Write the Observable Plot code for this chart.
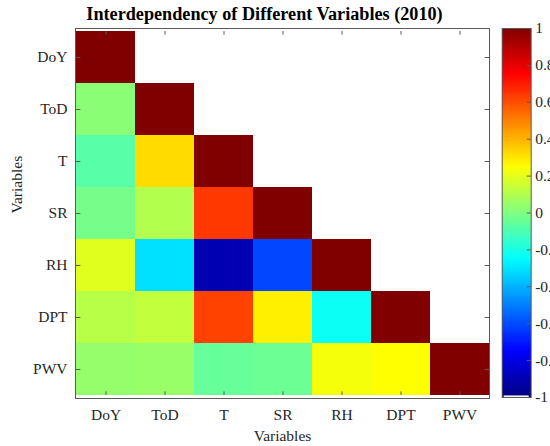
<!DOCTYPE html>
<html>
<head>
<meta charset="utf-8">
<script src="https://cdn.jsdelivr.net/npm/d3@7"></script>
<script src="https://cdn.jsdelivr.net/npm/@observablehq/plot@0.6"></script>
<style>
  html, body { margin: 0; padding: 0; background: white; overflow: hidden; }
  #wrap { position: relative; width: 550px; height: 446px; overflow: hidden; }
  #main { position: absolute; left: 0; top: 0; width: 550px; }
  #bar { position: absolute; left: 490px; top: 0; width: 80px; }
  #wrap svg { overflow: visible; max-width: none !important; font-family: "Liberation Serif", "Times New Roman", serif !important; font-size: 15.5px; }
  #wrap svg text { font-family: "Liberation Serif", "Times New Roman", serif !important; }
</style>
</head>
<body>
<div id="wrap"><div id="main"></div><div id="bar"></div></div>
<script>
// Variables
const vars = ["DoY", "ToD", "T", "SR", "RH", "DPT", "PWV"];
// Lower-triangle correlation rows (column order = vars)
const rowDoY = [1];
const rowToD = [0.02, 1];
const rowT   = [-0.08, 0.32, 1];
const rowSR  = [-0.02, 0.10, 0.64, 1];
const rowRH  = [0.19, -0.31, -0.90, -0.61, 1];
const rowDPT = [0.11, 0.13, 0.62, 0.28, -0.23, 1];
const rowPWV = [0.04, 0.05, -0.05, -0.04, 0.23, 0.25, 1];
const colorbarTicks = [1, 0.8, 0.6, 0.4, 0.2, 0, -0.2, -0.4, -0.6, -0.8, -1];
const titleText = "Interdependency of Different Variables (2010)";
const axisLabel = "Variables";

const rows = [rowDoY, rowToD, rowT, rowSR, rowRH, rowDPT, rowPWV];
const cells = rows.flatMap((r, i) => r.map((v, j) => ({row: vars[i], col: vars[j], value: v})));

const jet = {
  type: "linear",
  domain: [-1, -0.75, -0.25, 0.25, 0.75, 1],
  range: ["#000080", "#0000ff", "#00ffff", "#ffff00", "#ff0000", "#800000"],
  interpolate: "rgb"
};
const axisColor = "#262626";
const frameColor = "#5a5a5a";
const fs = 15.5;

const W = 550, H = 446, mL = 75, mR = 61, mT = 28, mB = 48;
const bw = (W - mL - mR) / vars.length;
const bh = (H - mT - mB) / vars.length;

const main = Plot.plot({
  width: W, height: H,
  marginLeft: mL, marginRight: mR, marginTop: mT, marginBottom: mB,
  x: {domain: vars, padding: 0, label: null},
  y: {domain: vars, padding: 0, label: null},
  color: jet,
  marks: [
    Plot.cell(cells, {x: "col", y: "row", fill: "value"}),
    Plot.frame({stroke: frameColor, strokeWidth: 1}),
    Plot.tickX(vars, {x: d => d, y: () => "PWV", insetTop: bh - 4.5, stroke: frameColor}),
    Plot.tickX(vars, {x: d => d, y: () => "DoY", insetBottom: bh - 4.5, stroke: frameColor}),
    Plot.tickY(vars, {y: d => d, x: () => "DoY", insetRight: bw - 4.5, stroke: frameColor}),
    Plot.tickY(vars, {y: d => d, x: () => "PWV", insetLeft: bw - 4.5, stroke: frameColor}),
    Plot.axisX({anchor: "bottom", tickSize: 0, tickPadding: 10, label: null, fontSize: fs, fill: axisColor}),
    Plot.axisY({anchor: "left", tickSize: 0, tickPadding: 8, label: null, fontSize: fs, fill: axisColor}),
    Plot.text([titleText], {frameAnchor: "top", lineAnchor: "bottom", dy: -9, dx: -18, fontWeight: "bold", fontSize: 18.2, fill: "black"}),
    Plot.text([axisLabel], {frameAnchor: "bottom", lineAnchor: "top", dy: 31, fontSize: fs, fill: axisColor}),
    Plot.text([axisLabel], {frameAnchor: "left", rotate: -90, lineAnchor: "middle", dx: -58, fontSize: fs, fill: axisColor})
  ]
});
document.getElementById("main").appendChild(main);

// Colorbar
const step = 0.01;
const slices = d3.range(-1, 1, step);
const bar = Plot.plot({
  width: 80, height: H,
  marginLeft: 11.7, marginRight: 39.3, marginTop: mT, marginBottom: 49,
  x: {domain: [0, 1], axis: null},
  y: {domain: [-1, 1], label: null},
  color: jet,
  marks: [
    Plot.rect(slices, {x1: 0, x2: 1, y1: d => d, y2: d => Math.min(1, d + step * 1.6), fill: d => d + step / 2, shapeRendering: "crispEdges"}),
    Plot.ruleY([-0.993], {stroke: "white", strokeWidth: 1.5, insetLeft: 2, insetRight: 2}),
    Plot.frame({stroke: frameColor}),
    Plot.tickY(colorbarTicks, {y: d => d, insetLeft: 25, stroke: frameColor}),
    Plot.axisY(colorbarTicks, {anchor: "right", tickSize: 0, tickPadding: 4, tickFormat: d => String(d), label: null, fontSize: fs, fill: axisColor})
  ]
});
document.getElementById("bar").appendChild(bar);
</script>
</body>
</html>
